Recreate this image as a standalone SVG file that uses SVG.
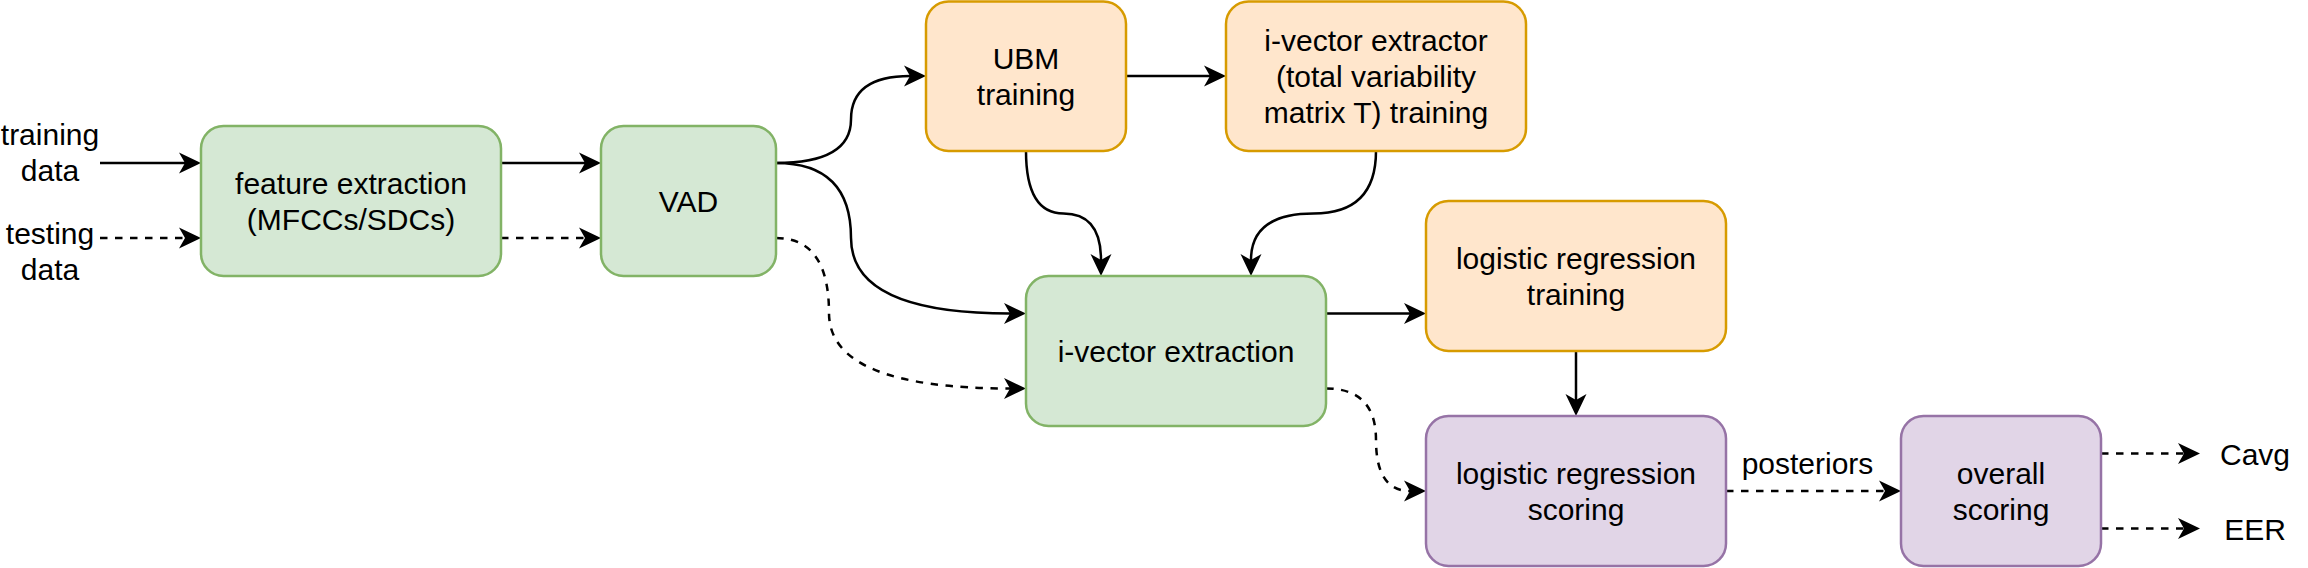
<svg xmlns="http://www.w3.org/2000/svg" width="2308" height="568" viewBox="0 0 2308 568">
<defs>
<marker id="arr" markerUnits="userSpaceOnUse" markerWidth="24" markerHeight="23" refX="6" refY="10.5" orient="auto" overflow="visible">
<path d="M22,10.5 L0,0 L6,10.5 L0,21 Z" fill="#000"/>
</marker>
<style>
text{font-family:"Liberation Sans",Arial,Helvetica,sans-serif;font-size:30px;fill:#000;text-anchor:middle}
.g rect{fill:#d5e8d4;stroke:#82b366;stroke-width:2.5}
.o rect{fill:#ffe6cc;stroke:#d79b00;stroke-width:2.5}
.p rect{fill:#e1d5e7;stroke:#9673a6;stroke-width:2.5}
.e{fill:none;stroke:#000;stroke-width:2.5;marker-end:url(#arr)}
.d{stroke-dasharray:7.5 7.5}
</style>
</defs>
<g id="connectors">
<path class="e" d="M100,163 L185,163"/>
<path class="e d" d="M100,238 L185,238"/>
<path class="e" d="M501,163 L585,163"/>
<path class="e d" d="M501,238 L585,238"/>
<path class="e" d="M776,163 Q851,163 851,119.5 Q851,76 910,76"/>
<path class="e" d="M776,163 Q851,163 851,238 Q851,313.5 1010,313.5"/>
<path class="e d" d="M776,238 Q829,238 829,313 Q829,388.5 1010,388.5"/>
<path class="e" d="M1126,76 L1210,76"/>
<path class="e" d="M1026,151 Q1026,213.5 1063.5,213.5 Q1101,213.5 1101,260"/>
<path class="e" d="M1376,151 Q1376,213.5 1313.5,213.5 Q1251,213.5 1251,260"/>
<path class="e" d="M1326,313.5 L1410,313.5"/>
<path class="e d" d="M1326,388.5 Q1376,388.5 1376,440 Q1376,491 1410,491"/>
<path class="e" d="M1576,351 L1576,400"/>
<path class="e d" d="M1726,491 L1885,491"/>
<path class="e d" d="M2101,453.5 L2184,453.5"/>
<path class="e d" d="M2101,528.5 L2184,528.5"/>
<text x="1807.5" y="474">posteriors</text>
</g>
<g id="training-data"><text x="50" y="144.5">training</text><text x="50" y="180.5">data</text></g>
<g id="testing-data"><text x="50" y="243.5">testing</text><text x="50" y="279.5">data</text></g>
<g id="feature-extraction" class="g"><rect x="201" y="126" width="300" height="150" rx="22.5"/><text x="351" y="193.5">feature extraction</text><text x="351" y="229.5">(MFCCs/SDCs)</text></g>
<g id="vad" class="g"><rect x="601" y="126" width="175" height="150" rx="22.5"/><text x="688.5" y="211.5">VAD</text></g>
<g id="ubm-training" class="o"><rect x="926" y="1.5" width="200" height="149.5" rx="22.5"/><text x="1026" y="68.5">UBM</text><text x="1026" y="104.5">training</text></g>
<g id="ivector-extractor-training" class="o"><rect x="1226" y="1.5" width="300" height="149.5" rx="22.5"/><text x="1376" y="50.5">i-vector extractor</text><text x="1376" y="86.5">(total variability</text><text x="1376" y="122.5">matrix T) training</text></g>
<g id="ivector-extraction" class="g"><rect x="1026" y="276" width="300" height="150" rx="22.5"/><text x="1176" y="361.5">i-vector extraction</text></g>
<g id="lr-training" class="o"><rect x="1426" y="201" width="300" height="150" rx="22.5"/><text x="1576" y="268.5">logistic regression</text><text x="1576" y="304.5">training</text></g>
<g id="lr-scoring" class="p"><rect x="1426" y="416" width="300" height="150" rx="22.5"/><text x="1576" y="483.5">logistic regression</text><text x="1576" y="519.5">scoring</text></g>
<g id="overall-scoring" class="p"><rect x="1901" y="416" width="200" height="150" rx="22.5"/><text x="2001" y="483.5">overall</text><text x="2001" y="519.5">scoring</text></g>
<g id="cavg"><text x="2255" y="464.5">Cavg</text></g>
<g id="eer"><text x="2255" y="539.5">EER</text></g>
</svg>
